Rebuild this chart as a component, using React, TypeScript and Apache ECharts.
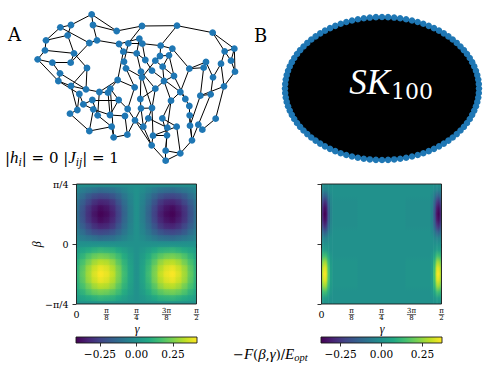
import React, { useEffect, useRef } from 'react';
import * as echarts from 'echarts';

// ---------- Panel A: graph layout (node coordinates in layout units) ----------
const nodesA: number[][] = [
  [275, 43], [213, 75], [181, 82], [279, 75], [350, 93], [426, 78], [531, 77], [638, 98], [138, 121], [203, 106],
  [268, 129], [291, 121], [357, 132], [385, 130], [418, 116], [427, 131], [482, 137], [517, 146], [135, 151], [113, 178],
  [222, 160], [370, 155], [410, 160], [480, 168], [507, 166], [674, 154], [703, 146], [157, 188], [212, 188], [261, 204],
  [372, 185], [466, 182], [436, 180], [618, 186], [663, 191], [693, 182], [180, 220], [175, 243], [378, 205], [423, 215],
  [456, 212], [488, 200], [568, 206], [611, 203], [705, 215], [426, 232], [522, 228], [639, 232], [672, 259], [353, 240],
  [492, 243], [213, 258], [258, 268], [298, 276], [331, 266], [404, 262], [466, 266], [541, 276], [601, 287], [632, 283],
  [238, 282], [324, 278], [556, 297], [356, 300], [421, 297], [513, 302], [250, 313], [277, 300], [280, 328], [232, 330],
  [383, 327], [423, 325], [456, 324], [568, 318], [210, 341], [293, 346], [330, 345], [375, 348], [405, 361], [445, 355],
  [487, 355], [569, 346], [647, 356], [268, 393], [335, 380], [430, 380], [502, 383], [530, 380], [570, 377], [595, 374],
  [607, 389], [341, 412], [382, 404], [459, 407], [501, 406], [576, 421], [455, 436], [497, 452], [541, 460], [497, 482],
];
const edgesA: number[][] = [
  [0, 1], [0, 3], [0, 4], [1, 2], [1, 9], [2, 8], [2, 10], [3, 11], [3, 4], [4, 5],
  [5, 6], [5, 13], [6, 7], [6, 16], [7, 26], [7, 25], [8, 18], [8, 9], [9, 20], [10, 11],
  [10, 28], [11, 12], [12, 21], [12, 14], [13, 15], [13, 30], [14, 22], [15, 16], [15, 32], [16, 17],
  [16, 23], [17, 24], [17, 42], [18, 19], [18, 20], [19, 27], [19, 37], [20, 28], [20, 29], [21, 22],
  [21, 49], [22, 39], [22, 32], [23, 31], [23, 24], [24, 46], [24, 41], [25, 26], [25, 34], [25, 35],
  [26, 35], [26, 44], [27, 36], [27, 28], [29, 51], [29, 52], [30, 38], [31, 45], [31, 41], [32, 40],
  [33, 43], [33, 47], [33, 42], [34, 47], [34, 48], [35, 44], [36, 37], [36, 52], [37, 60], [37, 51],
  [38, 45], [38, 55], [39, 56], [39, 64], [40, 57], [41, 46], [41, 50], [42, 57], [42, 43], [43, 58],
  [44, 48], [45, 72], [46, 50], [46, 62], [47, 59], [48, 82], [48, 58], [49, 54], [49, 53], [49, 55],
  [50, 56], [50, 65], [51, 52], [51, 69], [52, 53], [53, 61], [53, 75], [54, 91], [54, 63], [55, 70],
  [56, 72], [56, 64], [57, 62], [57, 65], [58, 59], [58, 88], [59, 89], [60, 66], [60, 69], [61, 76],
  [62, 73], [63, 76], [64, 71], [65, 80], [65, 86], [66, 68], [67, 63], [67, 75], [67, 66], [68, 83],
  [68, 76], [69, 74], [70, 78], [70, 63], [71, 85], [71, 92], [71, 72], [72, 79], [72, 93], [73, 81],
  [74, 83], [75, 84], [76, 77], [77, 92], [78, 85], [78, 96], [79, 86], [79, 85], [80, 94], [80, 87],
  [81, 88], [81, 95], [82, 90], [83, 84], [84, 91], [85, 96], [86, 97], [87, 98], [87, 93], [88, 95],
  [89, 90], [89, 95], [91, 92], [93, 96], [93, 94], [94, 97], [95, 98], [96, 99], [97, 98], [97, 99], [98, 99],
];

// ---------- Panel B: SK_100 complete graph ----------
const skNodeCount = 100;

// ---------- Heatmaps (gamma/pi on x, beta/pi on y) ----------
const betaRows = [0.25, 0.225, 0.2, 0.175, 0.15, 0.125, 0.1, 0.075, 0.05, 0.025, 0, -0.025, -0.05, -0.075, -0.1, -0.125, -0.15, -0.175, -0.2, -0.225, -0.25];
const gammaL = [0, 0.025, 0.05, 0.075, 0.1, 0.125, 0.15, 0.175, 0.2, 0.225, 0.25, 0.275, 0.3, 0.325, 0.35, 0.375, 0.4, 0.425, 0.45, 0.475, 0.5];
const valuesL: number[][] = [
  [0, 0, 0, 0, 0, 0, 0, 0, 0, 0, 0, 0, 0, 0, 0, 0, 0, 0, 0, 0, 0],
  [-0.04, -0.07, -0.09, -0.11, -0.13, -0.12, -0.11, -0.08, -0.05, -0.02, 0, -0.02, -0.05, -0.08, -0.11, -0.12, -0.13, -0.11, -0.09, -0.07, -0.04],
  [-0.07, -0.12, -0.18, -0.22, -0.24, -0.23, -0.2, -0.15, -0.09, -0.04, 0, -0.04, -0.09, -0.15, -0.2, -0.23, -0.24, -0.22, -0.18, -0.12, -0.07],
  [-0.1, -0.17, -0.24, -0.3, -0.33, -0.32, -0.28, -0.2, -0.12, -0.05, 0, -0.05, -0.12, -0.2, -0.28, -0.32, -0.33, -0.3, -0.24, -0.17, -0.1],
  [-0.11, -0.2, -0.29, -0.35, -0.39, -0.37, -0.32, -0.24, -0.14, -0.06, 0, -0.06, -0.14, -0.24, -0.32, -0.37, -0.39, -0.35, -0.29, -0.2, -0.11],
  [-0.12, -0.21, -0.3, -0.37, -0.41, -0.39, -0.34, -0.25, -0.15, -0.06, 0, -0.06, -0.15, -0.25, -0.34, -0.39, -0.41, -0.37, -0.3, -0.21, -0.12],
  [-0.11, -0.2, -0.29, -0.35, -0.39, -0.37, -0.32, -0.24, -0.14, -0.06, 0, -0.06, -0.14, -0.24, -0.32, -0.37, -0.39, -0.35, -0.29, -0.2, -0.11],
  [-0.1, -0.17, -0.24, -0.3, -0.33, -0.32, -0.28, -0.2, -0.12, -0.05, 0, -0.05, -0.12, -0.2, -0.28, -0.32, -0.33, -0.3, -0.24, -0.17, -0.1],
  [-0.07, -0.12, -0.18, -0.22, -0.24, -0.23, -0.2, -0.15, -0.09, -0.04, 0, -0.04, -0.09, -0.15, -0.2, -0.23, -0.24, -0.22, -0.18, -0.12, -0.07],
  [-0.04, -0.07, -0.09, -0.11, -0.13, -0.12, -0.11, -0.08, -0.05, -0.02, 0, -0.02, -0.05, -0.08, -0.11, -0.12, -0.13, -0.11, -0.09, -0.07, -0.04],
  [0, 0, 0, 0, 0, 0, 0, 0, 0, 0, 0, 0, 0, 0, 0, 0, 0, 0, 0, 0, 0],
  [0.04, 0.07, 0.09, 0.11, 0.13, 0.12, 0.11, 0.08, 0.05, 0.02, 0, 0.02, 0.05, 0.08, 0.11, 0.12, 0.13, 0.11, 0.09, 0.07, 0.04],
  [0.07, 0.12, 0.18, 0.22, 0.24, 0.23, 0.2, 0.15, 0.09, 0.04, 0, 0.04, 0.09, 0.15, 0.2, 0.23, 0.24, 0.22, 0.18, 0.12, 0.07],
  [0.1, 0.17, 0.24, 0.3, 0.33, 0.32, 0.28, 0.2, 0.12, 0.05, 0, 0.05, 0.12, 0.2, 0.28, 0.32, 0.33, 0.3, 0.24, 0.17, 0.1],
  [0.11, 0.2, 0.29, 0.35, 0.39, 0.37, 0.32, 0.24, 0.14, 0.06, 0, 0.06, 0.14, 0.24, 0.32, 0.37, 0.39, 0.35, 0.29, 0.2, 0.11],
  [0.12, 0.21, 0.3, 0.37, 0.41, 0.39, 0.34, 0.25, 0.15, 0.06, 0, 0.06, 0.15, 0.25, 0.34, 0.39, 0.41, 0.37, 0.3, 0.21, 0.12],
  [0.11, 0.2, 0.29, 0.35, 0.39, 0.37, 0.32, 0.24, 0.14, 0.06, 0, 0.06, 0.14, 0.24, 0.32, 0.37, 0.39, 0.35, 0.29, 0.2, 0.11],
  [0.1, 0.17, 0.24, 0.3, 0.33, 0.32, 0.28, 0.2, 0.12, 0.05, 0, 0.05, 0.12, 0.2, 0.28, 0.32, 0.33, 0.3, 0.24, 0.17, 0.1],
  [0.07, 0.12, 0.18, 0.22, 0.24, 0.23, 0.2, 0.15, 0.09, 0.04, 0, 0.04, 0.09, 0.15, 0.2, 0.23, 0.24, 0.22, 0.18, 0.12, 0.07],
  [0.04, 0.07, 0.09, 0.11, 0.13, 0.12, 0.11, 0.08, 0.05, 0.02, 0, 0.02, 0.05, 0.08, 0.11, 0.12, 0.13, 0.11, 0.09, 0.07, 0.04],
  [0, 0, 0, 0, 0, 0, 0, 0, 0, 0, 0, 0, 0, 0, 0, 0, 0, 0, 0, 0, 0],
];
const gammaR = [0, 0.005, 0.01, 0.015, 0.02, 0.025, 0.03, 0.04, 0.05, 0.25, 0.45, 0.46, 0.47, 0.475, 0.48, 0.485, 0.49, 0.495, 0.5];
const valuesR: number[][] = [
  [0, 0, 0, 0, 0, 0, 0, 0, 0, 0, 0, 0, 0, 0, 0, 0, 0, 0, 0],
  [-0.02, -0.04, -0.04, -0.04, -0.04, -0.03, -0.02, 0, 0, 0, 0, 0, -0.02, -0.03, -0.04, -0.04, -0.04, -0.04, -0.02],
  [-0.08, -0.12, -0.14, -0.15, -0.13, -0.1, -0.06, -0.02, 0, 0, 0, -0.02, -0.06, -0.1, -0.13, -0.15, -0.14, -0.12, -0.08],
  [-0.14, -0.22, -0.26, -0.27, -0.24, -0.17, -0.11, -0.03, -0.01, 0, -0.01, -0.03, -0.11, -0.17, -0.24, -0.27, -0.26, -0.22, -0.14],
  [-0.19, -0.28, -0.33, -0.34, -0.31, -0.22, -0.14, -0.04, -0.01, 0, -0.01, -0.04, -0.14, -0.22, -0.31, -0.34, -0.33, -0.28, -0.19],
  [-0.2, -0.3, -0.36, -0.37, -0.33, -0.24, -0.15, -0.04, -0.01, 0, -0.01, -0.04, -0.15, -0.24, -0.33, -0.37, -0.36, -0.3, -0.2],
  [-0.19, -0.28, -0.33, -0.34, -0.31, -0.22, -0.14, -0.04, -0.01, 0, -0.01, -0.04, -0.14, -0.22, -0.31, -0.34, -0.33, -0.28, -0.19],
  [-0.14, -0.22, -0.26, -0.27, -0.24, -0.17, -0.11, -0.03, -0.01, 0, -0.01, -0.03, -0.11, -0.17, -0.24, -0.27, -0.26, -0.22, -0.14],
  [-0.08, -0.12, -0.14, -0.15, -0.13, -0.1, -0.06, -0.02, 0, 0, 0, -0.02, -0.06, -0.1, -0.13, -0.15, -0.14, -0.12, -0.08],
  [-0.02, -0.04, -0.04, -0.04, -0.04, -0.03, -0.02, 0, 0, 0, 0, 0, -0.02, -0.03, -0.04, -0.04, -0.04, -0.04, -0.02],
  [0, 0, 0, 0, 0, 0, 0, 0, 0, 0, 0, 0, 0, 0, 0, 0, 0, 0, 0],
  [0.02, 0.04, 0.04, 0.04, 0.04, 0.03, 0.02, 0, 0, 0, 0, 0, 0.02, 0.03, 0.04, 0.04, 0.04, 0.04, 0.02],
  [0.08, 0.12, 0.14, 0.15, 0.13, 0.1, 0.06, 0.02, 0, 0, 0, 0.02, 0.06, 0.1, 0.13, 0.15, 0.14, 0.12, 0.08],
  [0.14, 0.22, 0.26, 0.27, 0.24, 0.17, 0.11, 0.03, 0.01, 0, 0.01, 0.03, 0.11, 0.17, 0.24, 0.27, 0.26, 0.22, 0.14],
  [0.19, 0.28, 0.33, 0.34, 0.31, 0.22, 0.14, 0.04, 0.01, 0, 0.01, 0.04, 0.14, 0.22, 0.31, 0.34, 0.33, 0.28, 0.19],
  [0.2, 0.3, 0.36, 0.37, 0.33, 0.24, 0.15, 0.04, 0.01, 0, 0.01, 0.04, 0.15, 0.24, 0.33, 0.37, 0.36, 0.3, 0.2],
  [0.19, 0.28, 0.33, 0.34, 0.31, 0.22, 0.14, 0.04, 0.01, 0, 0.01, 0.04, 0.14, 0.22, 0.31, 0.34, 0.33, 0.28, 0.19],
  [0.14, 0.22, 0.26, 0.27, 0.24, 0.17, 0.11, 0.03, 0.01, 0, 0.01, 0.03, 0.11, 0.17, 0.24, 0.27, 0.26, 0.22, 0.14],
  [0.08, 0.12, 0.14, 0.15, 0.13, 0.1, 0.06, 0.02, 0, 0, 0, 0.02, 0.06, 0.1, 0.13, 0.15, 0.14, 0.12, 0.08],
  [0.02, 0.04, 0.04, 0.04, 0.04, 0.03, 0.02, 0, 0, 0, 0, 0, 0.02, 0.03, 0.04, 0.04, 0.04, 0.04, 0.02],
  [0, 0, 0, 0, 0, 0, 0, 0, 0, 0, 0, 0, 0, 0, 0, 0, 0, 0, 0],
];
const rangeL = [-0.414, 0.414];
const rangeR = [-0.37, 0.37];
const colorbarTicks = [-0.25, 0, 0.25];
const gammaTicks = [0, 0.125, 0.25, 0.375, 0.5];
const gammaTickLabels = ['0', 'π/8', 'π/4', '3π/8', 'π/2'];
const betaTicks = [-0.25, 0, 0.25];
const betaTickLabels = ['−π/4', '0', 'π/4'];

// ---------- styling ----------
const FONT = '"DejaVu Serif", "Liberation Serif", serif';
const IFONT = '"Liberation Serif", serif';
const NODE_BLUE = '#1f77b4';
const VIRIDIS = ['#440154', '#482475', '#414487', '#355f8d', '#2a788e', '#21918c', '#22a884', '#44bf70', '#7ad151', '#bddf26', '#fde725'];

function hexRgb(h: string) {
  return [parseInt(h.slice(1, 3), 16), parseInt(h.slice(3, 5), 16), parseInt(h.slice(5, 7), 16)];
}
function cmap(t: number) {
  const c = Math.max(0, Math.min(1, t));
  const s = c * (VIRIDIS.length - 1);
  const i = Math.min(Math.floor(s), VIRIDIS.length - 2);
  const f = s - i;
  const a = hexRgb(VIRIDIS[i]);
  const b = hexRgb(VIRIDIS[i + 1]);
  const m = a.map((v, k) => Math.round(v + (b[k] - v) * f));
  return `rgb(${m[0]},${m[1]},${m[2]})`;
}

const BETA_MAX = 0.25;
const BETA_MIN = -0.25;
const GAMMA_MIN = 0;
const GAMMA_MAX = 0.5;

// vertical strips, one per gamma column, with a vertical gradient through the beta rows
function heatColumns(gi: number, gammas: number[], matrix: number[][], range: number[]) {
  return {
    type: 'custom',
    xAxisIndex: gi,
    yAxisIndex: gi,
    silent: true,
    data: gammas.map((g) => [g, 0]),
    renderItem: (params: any, api: any) => {
      const j = params.dataIndex;
      const g = gammas[j];
      const gl = j === 0 ? g : (gammas[j - 1] + g) / 2;
      const gr = j === gammas.length - 1 ? g : (gammas[j + 1] + g) / 2;
      const p0 = api.coord([gl, BETA_MAX]);
      const p1 = api.coord([gr, BETA_MIN]);
      const stops = betaRows.map((b, i) => ({
        offset: (BETA_MAX - b) / (BETA_MAX - BETA_MIN),
        color: cmap((matrix[i][j] - range[0]) / (range[1] - range[0])),
      }));
      const extra = j === gammas.length - 1 ? 0 : 0.6;
      return {
        type: 'rect',
        shape: { x: p0[0], y: p0[1], width: p1[0] - p0[0] + extra, height: p1[1] - p0[1] },
        style: { fill: { type: 'linear', x: 0, y: 0, x2: 0, y2: 1, colorStops: stops } },
      };
    },
  };
}
// horizontal strips, one per beta row, with a horizontal gradient through the gamma columns
function heatRows(gi: number, gammas: number[], matrix: number[][], range: number[], opacity: number) {
  return {
    type: 'custom',
    xAxisIndex: gi,
    yAxisIndex: gi,
    silent: true,
    data: betaRows.map((b) => [GAMMA_MIN, b]),
    renderItem: (params: any, api: any) => {
      const i = params.dataIndex;
      const b = betaRows[i];
      const bt = i === 0 ? b : (betaRows[i - 1] + b) / 2;
      const bb = i === betaRows.length - 1 ? b : (betaRows[i + 1] + b) / 2;
      const p0 = api.coord([gammas[0], bt]);
      const p1 = api.coord([gammas[gammas.length - 1], bb]);
      const g0 = gammas[0];
      const gw = gammas[gammas.length - 1] - g0;
      const stops = gammas.map((g, j) => ({
        offset: (g - g0) / gw,
        color: cmap((matrix[i][j] - range[0]) / (range[1] - range[0])),
      }));
      const extra = i === betaRows.length - 1 ? 0 : 0.6;
      return {
        type: 'rect',
        shape: { x: p0[0], y: p0[1], width: p1[0] - p0[0], height: p1[1] - p0[1] + extra },
        style: { fill: { type: 'linear', x: 0, y: 0, x2: 1, y2: 0, colorStops: stops }, opacity },
      };
    },
  };
}

function frameSeries(gi: number) {
  return {
    type: 'custom',
    xAxisIndex: gi,
    yAxisIndex: gi,
    silent: true,
    z: 5,
    data: [[GAMMA_MIN, BETA_MIN]],
    renderItem: (_p: any, api: any) => {
      const p0 = api.coord([GAMMA_MIN, BETA_MAX]);
      const p1 = api.coord([GAMMA_MAX, BETA_MIN]);
      return {
        type: 'rect',
        shape: { x: p0[0], y: p0[1], width: p1[0] - p0[0], height: p1[1] - p0[1] },
        style: { fill: 'none', stroke: '#1a1a1a', lineWidth: 0.9 },
      };
    },
  };
}

function colorbarSeries(gi: number, range: number[]) {
  return {
    type: 'custom',
    xAxisIndex: gi,
    yAxisIndex: gi,
    silent: true,
    data: [[range[0], 0]],
    renderItem: (_p: any, api: any) => {
      const p0 = api.coord([range[0], 1]);
      const p1 = api.coord([range[1], 0]);
      const stops = VIRIDIS.map((c, i) => ({ offset: i / (VIRIDIS.length - 1), color: c }));
      return {
        type: 'rect',
        shape: { x: p0[0], y: p0[1], width: p1[0] - p0[0], height: p1[1] - p0[1] },
        style: { fill: { type: 'linear', x: 0, y: 0, x2: 1, y2: 0, colorStops: stops }, stroke: '#1a1a1a', lineWidth: 0.9 },
      };
    },
  };
}

function gammaLabel(v: number) {
  const idx = gammaTicks.findIndex((t) => Math.abs(t - v) < 1e-6);
  if (idx < 0) return '';
  const s = gammaTickLabels[idx];
  if (s.indexOf('/') < 0) return `{z|${s}}`;
  const [n, d] = s.split('/');
  return `{n|${n}}\n{d|${d}}`;
}
function betaLabel(v: number) {
  const idx = betaTicks.findIndex((t) => Math.abs(t - v) < 1e-6);
  return idx < 0 ? '' : betaTickLabels[idx];
}
function cbLabel(v: number) {
  return (v < 0 ? '−' : '') + Math.abs(v).toFixed(2);
}

function heatXAxis(gi: number) {
  return {
    gridIndex: gi,
    type: 'value',
    min: GAMMA_MIN,
    max: GAMMA_MAX,
    interval: 0.125,
    axisLine: { show: false },
    splitLine: { show: false },
    axisTick: { show: true, length: 4, lineStyle: { color: '#000', width: 0.8 } },
    axisLabel: {
      margin: 4,
      formatter: gammaLabel,
      color: '#000',
      rich: {
        z: { fontFamily: FONT, fontSize: 9.5, lineHeight: 10, padding: [3, 0, 0, 0], color: '#000' },
        n: { fontFamily: FONT, fontSize: 7, lineHeight: 6.5, color: '#000' },
        d: { fontFamily: FONT, fontSize: 7, lineHeight: 6.5, color: '#000' },
      },
    },
  };
}
function heatYAxis(gi: number, showLabels: boolean) {
  return {
    gridIndex: gi,
    type: 'value',
    min: BETA_MIN,
    max: BETA_MAX,
    interval: 0.25,
    axisLine: { show: false },
    splitLine: { show: false },
    axisTick: { show: true, length: 4, lineStyle: { color: '#000', width: 0.8 } },
    axisLabel: { show: showLabels, margin: 8, formatter: betaLabel, fontFamily: FONT, fontSize: 9.5, color: '#000' },
  };
}
function cbXAxis(gi: number, range: number[]) {
  return {
    gridIndex: gi,
    type: 'value',
    min: range[0],
    max: range[1],
    position: 'bottom',
    axisLine: { show: false },
    splitLine: { show: false },
    axisTick: { show: true, customValues: colorbarTicks, length: 3.5, lineStyle: { color: '#000', width: 0.8 } },
    axisLabel: { customValues: colorbarTicks, formatter: cbLabel, margin: 5, fontFamily: FONT, fontSize: 10.5, color: '#000' },
  };
}

function txt(x: number, y: number, text: string, size: number, extra: any = {}) {
  return {
    type: 'text',
    x,
    y,
    silent: true,
    z: 100,
    style: {
      text,
      fontFamily: FONT,
      fontSize: size,
      fill: '#000',
      align: 'left',
      verticalAlign: 'middle',
      textAlign: 'left',
      textVerticalAlign: 'middle',
      ...extra,
    },
  };
}

export default function App() {
  const ref = useRef<HTMLDivElement>(null);
  useEffect(() => {
    if (!ref.current) return;
    const chart = echarts.init(ref.current, null, { renderer: 'svg' });
    const nodesB = Array.from({ length: skNodeCount }, (_, k) => [
      Math.cos((2 * Math.PI * k) / skNodeCount),
      Math.sin((2 * Math.PI * k) / skNodeCount),
    ]);

    const option: any = {
      animation: false,
      backgroundColor: '#fff',
      grid: [
        { left: 0, top: 0, width: 250, height: 180, outerBoundsMode: 'none' },
        { left: 285, top: 17, width: 194, height: 143, outerBoundsMode: 'none' },
        { left: 76.5, top: 184, width: 120, height: 120, outerBoundsMode: 'none' },
        { left: 321.5, top: 184, width: 120, height: 120, outerBoundsMode: 'none' },
        { left: 76, top: 337, width: 121, height: 6, outerBoundsMode: 'none' },
        { left: 321, top: 337, width: 121, height: 6, outerBoundsMode: 'none' },
      ],
      xAxis: [
        { gridIndex: 0, type: 'value', min: 0, max: 750, show: false },
        { gridIndex: 1, type: 'value', min: -1, max: 1, show: false },
        heatXAxis(2),
        heatXAxis(3),
        cbXAxis(4, rangeL),
        cbXAxis(5, rangeR),
      ],
      yAxis: [
        { gridIndex: 0, type: 'value', min: 0, max: 540, inverse: true, show: false },
        { gridIndex: 1, type: 'value', min: -1, max: 1, show: false },
        heatYAxis(2, true),
        heatYAxis(3, false),
        { gridIndex: 4, type: 'value', min: 0, max: 1, show: false },
        { gridIndex: 5, type: 'value', min: 0, max: 1, show: false },
      ],
      series: [
        {
          type: 'graph',
          coordinateSystem: 'cartesian2d',
          xAxisIndex: 0,
          yAxisIndex: 0,
          data: nodesA.map((p) => ({ value: p })),
          links: edgesA.map(([s, t]) => ({ source: s, target: t })),
          symbol: 'circle',
          symbolSize: 6.8,
          itemStyle: { color: NODE_BLUE },
          lineStyle: { color: '#000', width: 1, opacity: 1, curveness: 0 },
          label: { show: false },
          emphasis: { disabled: true },
          silent: true,
        },
        {
          type: 'custom',
          xAxisIndex: 1,
          yAxisIndex: 1,
          silent: true,
          data: [[0, 0]],
          renderItem: (_p: any, api: any) => ({
            type: 'polygon',
            shape: { points: nodesB.map((p) => api.coord(p)) },
            style: { fill: '#000', stroke: '#000', lineWidth: 1 },
          }),
        },
        {
          type: 'scatter',
          xAxisIndex: 1,
          yAxisIndex: 1,
          silent: true,
          symbolSize: 6.5,
          itemStyle: { color: NODE_BLUE, opacity: 1 },
          data: nodesB,
          z: 3,
        },
        heatColumns(2, gammaL, valuesL, rangeL),
        heatRows(2, gammaL, valuesL, rangeL, 0.5),
        frameSeries(2),
        heatColumns(3, gammaR, valuesR, rangeR),
        frameSeries(3),
        colorbarSeries(4, rangeL),
        colorbarSeries(5, rangeR),
      ],
    };
    chart.setOption(option);

    const graphics: any[] = [
      txt(8, 34.5, 'A', 18),
      txt(254, 35, 'B', 18),
      {
        type: 'text',
        x: 5,
        y: 157.5,
        silent: true,
        style: {
          text: '{m||}{i|h}{s|i}{m|| = 0 |}{i|J}{s|ij}{m|| = 1}',
          align: 'left',
          verticalAlign: 'middle',
          textAlign: 'left',
          textVerticalAlign: 'middle',
          rich: {
            m: { fontFamily: FONT, fontSize: 15, lineHeight: 20, color: '#000' },
            i: { fontFamily: IFONT, fontSize: 17, lineHeight: 20, fontStyle: 'italic', color: '#000' },
            s: { fontFamily: IFONT, fontSize: 11.5, fontStyle: 'italic', verticalAlign: 'bottom', color: '#000' },
          },
        },
      },
      txt(390, 82.5, 'SK', 35, { fill: '#fff', fontStyle: 'italic', fontFamily: IFONT, align: 'right', textAlign: 'right' }),
      txt(391, 91, '100', 22, { fill: '#fff' }),
      { ...txt(36.7, 244.3, 'β', 12, { fontStyle: 'italic', fontFamily: IFONT, align: 'center', textAlign: 'center' }), rotation: Math.PI / 2 },
      txt(137, 328.5, 'γ', 12, { fontStyle: 'italic', fontFamily: IFONT, align: 'center', textAlign: 'center' }),
      txt(382, 328.5, 'γ', 12, { fontStyle: 'italic', fontFamily: IFONT, align: 'center', textAlign: 'center' }),
      {
        type: 'text',
        x: 233,
        y: 354,
        silent: true,
        style: {
          text: '{m|−}{i|F}{m|(}{i|β}{m|,}{i|γ}{m|)/}{i|E}{s|opt}',
          align: 'left',
          verticalAlign: 'middle',
          textAlign: 'left',
          textVerticalAlign: 'middle',
          rich: {
            m: { fontFamily: FONT, fontSize: 13, lineHeight: 18, color: '#000' },
            i: { fontFamily: IFONT, fontSize: 15, lineHeight: 18, fontStyle: 'italic', color: '#000' },
            s: { fontFamily: IFONT, fontSize: 10.5, fontStyle: 'italic', verticalAlign: 'bottom', color: '#000' },
          },
        },
      },
    ];
    [2, 3].forEach((gi) => {
      gammaTicks.forEach((v, k) => {
        const lab = gammaTickLabels[k];
        if (lab.indexOf('/') < 0) return;
        const p = chart.convertToPixel({ gridIndex: gi } as any, [v, BETA_MIN]) as number[];
        const half = lab.length > 3 ? 4.6 : 2.8;
        graphics.push({
          type: 'line',
          silent: true,
          z: 100,
          shape: { x1: p[0] - half, y1: p[1] + 10.6, x2: p[0] + half, y2: p[1] + 10.6 },
          style: { stroke: '#000', lineWidth: 0.6 },
        });
      });
    });
    chart.setOption({ graphic: graphics });

    return () => chart.dispose();
  }, []);
  return <div ref={ref} style={{ position: 'fixed', left: 0, top: 0, width: 498, height: 369 }} />;
}
